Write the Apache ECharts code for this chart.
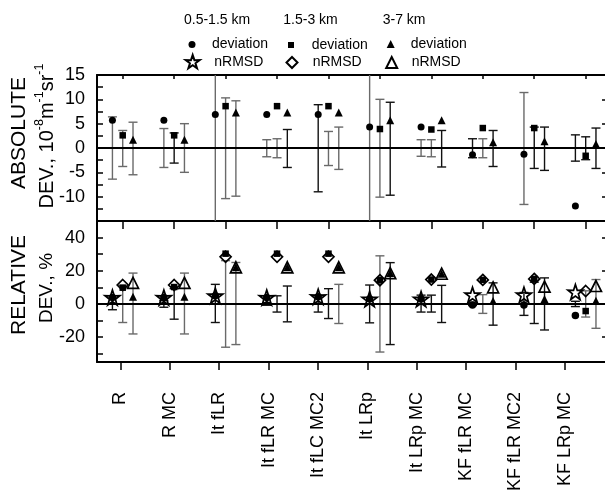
<!DOCTYPE html>
<html>
<head>
<meta charset="utf-8">
<script src="https://cdn.jsdelivr.net/npm/echarts@6/dist/echarts.min.js"></script>
<style>html,body{margin:0;padding:0;background:#fff;overflow:hidden;width:605px;height:494px}#c{width:620px;height:494px}</style>
</head>
<body>
<div id="c"></div>
<script>
// ---------- data ----------
const categories = ['R','R MC','It fLR','It fLR MC','It fLC MC2','It LRp','It LRp MC','KF fLR MC','KF fLR MC2','KF LRp MC'];
const altitudeBands = ['0.5-1.5 km','1.5-3 km','3-7 km'];

// top panel: absolute deviation (10^-8 m^-1 sr^-1)
const absDev1 = [5.7, 5.7, 6.9, 6.9, 6.9, 4.3, 4.3, -1.4, -1.3, -11.9];
const absDev2 = [2.6, 2.6, 8.6, 8.6, 8.6, 3.9, 3.8, 4.1, 4.1, -1.6];
const absDev3 = [1.7, 1.7, 7.3, 7.3, 7.3, 5.7, 5.7, 1.2, 1.4, 0.8];
const absBarLo1 = [-6.4, -4.0, -20, -1.8, -9.0, -20, -1.7, -2.0, -11.6, -2.7];
const absBarHi1 = [ 6.4,  4.0,  20,  1.7,  8.9,  20,  1.7,  1.9,  11.4,  2.7];
const absBarLo2 = [-3.8, -3.1, -10.4, -2.0, -3.6, -10.1, -1.8, -2.0, -4.2, -2.4];
const absBarHi2 = [ 3.6,  3.1,  10.3,  1.9,  3.4,  10.0,  1.7,  1.9,  4.3,  2.3];
const absBarLo3 = [-5.5, -5.0, -9.9, -4.0, -4.4, -9.7, -3.9, -3.8, -4.6, -4.2];
const absBarHi3 = [ 5.3,  5.0,  9.7,  3.8,  4.3,  9.4,  3.6,  3.6,  4.3,  4.1];
const absBarDark1 = [0,0,0,0,1,0,0,1,0,1];
const absBarDark2 = [0,1,0,0,0,0,0,0,1,1];
const absBarDark3 = [0,0,0,1,0,1,1,1,1,1];

// bottom panel: relative deviation (%)
const relDev1 = [3.9, 3.9, 4.9, 3.9, 4.3, 2.9, 2.9, -0.6, -0.6, -6.9];
const relDev2 = [9.8, 10.2, 30.3, 30.3, 30.3, 14.3, 14.7, 14.5, 15.1, -4.3];
const relDev3 = [4.3, 4.3, 22.1, 22.1, 22.1, 18.6, 18.2, 1.8, 2.9, 1.9];
const relRmsd1 = [3.9, 3.9, 4.9, 3.9, 4.3, 2.9, 2.9, 5.5, 5.5, 7.2];
const relRmsd2 = [11.4, 11.4, 28.4, 28.4, 28.4, 14.3, 14.7, 14.5, 15.1, 7.8];
const relRmsd3 = [12.7, 12.7, 22.1, 22.1, 22.1, 18.6, 18.2, 10.0, 10.4, 10.8];
const relBarLo1 = [-3.5, -2.0, -11.2, -0.8, -4.9, -11.4, -4.9, -1.0, -6.9, -1.6];
const relBarHi1 = [ 3.5,  2.0,  11.8,  0.8,  4.9,  11.4,  5.3,  1.0,  6.9,  1.6];
const relBarLo2 = [-11.2, -9.2, -26.1, -4.9, -8.8, -29.0, -4.9, -5.7, -11.8, -7.9];
const relBarHi2 = [ 11.2,  9.2,  26.1,  4.9,  9.2,  29.0,  5.3,  5.6,  13.1,  7.9];
const relBarLo3 = [-18.1, -18.1, -24.5, -10.8, -11.8, -24.5, -11.2, -12.8, -15.7, -14.7];
const relBarHi3 = [ 18.6,  18.6,  25.0,  10.8,  11.8,  24.9,  11.2,  12.7,  15.7,  14.7];
const relBarDark1 = [1,1,1,1,1,1,1,1,1,1];
const relBarDark2 = [0,1,0,1,1,0,1,0,1,0];
const relBarDark3 = [0,0,0,1,0,1,1,1,1,0];

const absRange = [-15, 15];
const relRange = [-35, 50];
const relTickVals = [-30,-20,-10,0,10,20,30,40];
const relLabelVals = [-20,0,20,40];

// ---------- helpers ----------
const FONT = 'Liberation Sans, Arial, sans-serif';
const OFF = [-0.2, 0, 0.2];
const STAR = 'path://M50,0 L61.8,35.1 L97.6,34.5 L68.8,56.2 L79.4,90.5 L50,70 L20.6,90.5 L31.2,56.2 L2.4,34.5 L38.2,35.1 Z';
const idx = categories.map((_, i) => i);

function pts(vals, k) { return vals.map((v, i) => [i + OFF[k], v]); }
function bars(lo, hi, dark, k) { return lo.map((l, i) => [i + OFF[k], l, hi[i], dark[i]]); }

function errRender(params, api) {
  const x = api.value(0), lo = api.value(1), hi = api.value(2), dk = api.value(3);
  const a = api.coord([x, lo]), b = api.coord([x, hi]);
  const hw = 4.5;
  const style = { stroke: dk ? '#111' : '#6a6a6a', lineWidth: 1.4, fill: null };
  return { type: 'group', children: [
    { type: 'line', shape: { x1: a[0], y1: a[1], x2: b[0], y2: b[1] }, style },
    { type: 'line', shape: { x1: a[0]-hw, y1: a[1], x2: a[0]+hw, y2: a[1] }, style },
    { type: 'line', shape: { x1: b[0]-hw, y1: b[1], x2: b[0]+hw, y2: b[1] }, style }
  ]};
}
function errSeries(data, xi, yi) {
  return { type: 'custom', xAxisIndex: xi, yAxisIndex: yi, clip: true, z: 2, silent: true,
    renderItem: errRender, encode: { x: 0, y: [1, 2] }, data };
}
function scat(name, data, xi, yi, symbol, size, filled, extra) {
  return Object.assign({ type: 'scatter', name, xAxisIndex: xi, yAxisIndex: yi, data, symbol, symbolSize: size, z: filled ? 4 : 3,
    itemStyle: filled ? { color: '#000', borderColor: '#000', borderWidth: 0, opacity: 1 }
                      : { color: 'rgba(255,255,255,0)', borderColor: '#000', borderWidth: 1.7, opacity: 1 },
    emphasis: { disabled: true } }, extra || {});
}
const zeroLine = { silent: true, symbol: 'none', label: { show: false }, data: [{ yAxis: 0 }],
  lineStyle: { color: '#000', width: 2, type: 'solid' }, animation: false };

const W = 510, L = 97;
const labelScale = 49.35; // px per slot of the bottom category labels
const dataScale = 51.44;  // px per category of the plotted groups

const xData = (gi, pos, tickLen) => ({
  type: 'value', gridIndex: gi, position: pos, min: -0.5, max: -0.5 + W / dataScale,
  axisLine: { show: true, onZero: false, lineStyle: { color: '#000', width: 2 } },
  axisTick: { show: true, inside: true, length: tickLen, customValues: idx, lineStyle: { color: '#000', width: 1.5 } },
  axisLabel: { show: false }, splitLine: { show: false }
});

const option = {
  animation: false,
  backgroundColor: '#fff',
  textStyle: { fontFamily: FONT },
  grid: [
    { left: L, top: 75, width: W, height: 146 },
    { left: L, top: 221, width: W, height: 145 }
  ],
  xAxis: [
    xData(0, 'top', 4),
    xData(1, 'top', 8),
    { type: 'value', gridIndex: 1, position: 'bottom',
      min: -(120.5 - L) / labelScale, max: -(120.5 - L) / labelScale + W / labelScale,
      axisLine: { show: true, onZero: false, lineStyle: { color: '#000', width: 2 } },
      axisTick: { show: true, inside: false, length: 8, customValues: idx, lineStyle: { color: '#000', width: 1.5 } },
      axisLabel: { show: true, customValues: idx, rotate: 90, margin: 30, color: '#000', fontSize: 18, fontFamily: FONT,
        formatter: v => categories[Math.round(v)] },
      splitLine: { show: false } }
  ],
  yAxis: [
    { type: 'value', gridIndex: 0, position: 'left', min: absRange[0], max: absRange[1], interval: 2.5,
      axisLine: { show: true, onZero: false, lineStyle: { color: '#000', width: 2 } },
      axisTick: { show: true, inside: true, length: 6, lineStyle: { color: '#000', width: 1.5 } },
      axisLabel: { color: '#000', fontSize: 18, fontFamily: FONT, margin: 12,
        formatter: v => (Math.abs(v % 5) < 1e-9 && v > -15) ? String(v) : '' },
      splitLine: { show: false } },
    { type: 'value', gridIndex: 0, position: 'right', min: absRange[0], max: absRange[1], interval: 5,
      axisLine: { show: true, onZero: false, lineStyle: { color: '#000', width: 2 } },
      axisTick: { show: true, inside: true, length: 5, lineStyle: { color: '#000', width: 1.5 } },
      axisLabel: { show: false }, splitLine: { show: false } },
    { type: 'value', gridIndex: 1, position: 'left', min: relRange[0], max: relRange[1],
      axisLine: { show: true, onZero: false, lineStyle: { color: '#000', width: 2 } },
      axisTick: { show: true, inside: true, length: 6, customValues: relTickVals, lineStyle: { color: '#000', width: 1.5 } },
      axisLabel: { color: '#000', fontSize: 18, fontFamily: FONT, margin: 12, customValues: relLabelVals },
      splitLine: { show: false } },
    { type: 'value', gridIndex: 1, position: 'right', min: relRange[0], max: relRange[1],
      axisLine: { show: true, onZero: false, lineStyle: { color: '#000', width: 2 } },
      axisTick: { show: true, inside: true, length: 5, customValues: relLabelVals, lineStyle: { color: '#000', width: 1.5 } },
      axisLabel: { show: false }, splitLine: { show: false } }
  ],
  legend: [
    { data: ['dev1'], left: 188.5, top: 37.5, itemWidth: 7, itemHeight: 7, pad: 11.5 },
    { data: ['dev2'], left: 288, top: 38, itemWidth: 6, itemHeight: 6, pad: 12.7 },
    { data: ['dev3'], left: 386.7, top: 37, itemWidth: 8, itemHeight: 8, pad: 11 },
    { data: ['rmsd1'], left: 184.7, top: 54, itemWidth: 14, itemHeight: 14, pad: 9.6 },
    { data: ['rmsd2'], left: 285.5, top: 55.5, itemWidth: 11, itemHeight: 11, pad: 10.2 },
    { data: ['rmsd3'], left: 385.2, top: 55.5, itemWidth: 11, itemHeight: 11, pad: 9.5 }
  ].map(l => ({
    data: l.data, left: l.left, top: l.top, itemWidth: l.itemWidth, itemHeight: l.itemHeight,
    padding: 0, selectedMode: false, orient: 'horizontal',
    formatter: n => n.indexOf('dev') === 0 ? 'deviation' : 'nRMSD',
    textStyle: { color: '#000', fontSize: 14, fontFamily: FONT, padding: [0, 0, 0, l.pad] }
  })),
  graphic: [
    ...altitudeBands.map((t, i) => ({ type: 'text', left: [184, 283.3, 382.7][i], top: 13,
      style: { text: t, fill: '#000', font: '14px ' + FONT } })),
    { type: 'text', x: 19, y: 133, rotation: Math.PI / 2,
      style: { text: 'ABSOLUTE', fill: '#000', font: '21px ' + FONT, align: 'center', verticalAlign: 'middle' } },
    { type: 'text', x: 47, y: 136, rotation: Math.PI / 2,
      style: { text: '{n|DEV., 10}{s|-8}{n|m}{s|-1}{n|sr}{s|-1}', align: 'center', verticalAlign: 'middle',
        rich: { n: { fontSize: 20, fontFamily: FONT, fill: '#000', color: '#000', lineHeight: 27 },
                s: { fontSize: 12.5, fontFamily: FONT, fill: '#000', color: '#000', verticalAlign: 'top', lineHeight: 14 } } } },
    { type: 'text', x: 19, y: 285, rotation: Math.PI / 2,
      style: { text: 'RELATIVE', fill: '#000', font: '21px ' + FONT, align: 'center', verticalAlign: 'middle' } },
    { type: 'text', x: 47, y: 288, rotation: Math.PI / 2,
      style: { text: 'DEV., %', fill: '#000', font: '19px ' + FONT, align: 'center', verticalAlign: 'middle' } }
  ],
  series: [
    // top panel
    errSeries(bars(absBarLo1, absBarHi1, absBarDark1, 0), 0, 0),
    errSeries(bars(absBarLo2, absBarHi2, absBarDark2, 1), 0, 0),
    errSeries(bars(absBarLo3, absBarHi3, absBarDark3, 2), 0, 0),
    scat('dev1', pts(absDev1, 0), 0, 0, 'circle', 7, true, { markLine: zeroLine }),
    scat('dev2', pts(absDev2, 1), 0, 0, 'rect', 6.5, true),
    scat('dev3', pts(absDev3, 2), 0, 0, 'triangle', 8, true),
    // bottom panel
    errSeries(bars(relBarLo1, relBarHi1, relBarDark1, 0), 1, 2),
    errSeries(bars(relBarLo2, relBarHi2, relBarDark2, 1), 1, 2),
    errSeries(bars(relBarLo3, relBarHi3, relBarDark3, 2), 1, 2),
    scat('rmsd1', pts(relRmsd1, 0), 1, 2, STAR, 15, false, { markLine: zeroLine }),
    scat('rmsd2', pts(relRmsd2, 1), 1, 2, 'diamond', 11, false),
    scat('rmsd3', pts(relRmsd3, 2), 1, 2, 'triangle', 11, false),
    scat('dev1', pts(relDev1, 0), 1, 2, 'circle', 7.5, true),
    scat('dev2', pts(relDev2, 1), 1, 2, 'rect', 6.5, true),
    scat('dev3', pts(relDev3, 2), 1, 2, 'triangle', 8, true)
  ]
};
const chart = echarts.init(document.getElementById('c'), null, { renderer: 'canvas' });
chart.setOption(option);
</script>
</body>
</html>
